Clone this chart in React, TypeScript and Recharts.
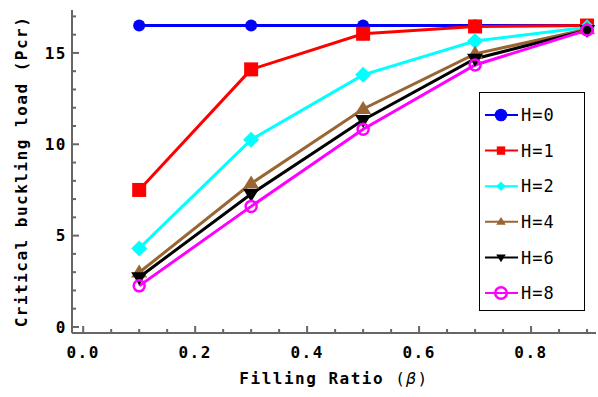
import React from "react";
import { LineChart, Line, XAxis, YAxis, Legend, Label } from "recharts";

const xValues = [0.1, 0.3, 0.5, 0.7, 0.9];
const h0 = [16.5, 16.5, 16.5, 16.5, 16.5];
const h1 = [7.5, 14.1, 16.05, 16.45, 16.5];
const h2 = [4.3, 10.25, 13.8, 15.65, 16.4];
const h4 = [2.98, 7.85, 11.93, 14.95, 16.3];
const h6 = [2.72, 7.28, 11.33, 14.68, 16.25];
const h8 = [2.25, 6.6, 10.82, 14.34, 16.25];

const seriesNames = ["H=0", "H=1", "H=2", "H=4", "H=6", "H=8"];
const seriesKeys = ["h0", "h1", "h2", "h4", "h6", "h8"];
const seriesColors = ["#0000FF", "#FF0000", "#00FFFF", "#996633", "#000000", "#FF00FF"];
const seriesShapes = ["circle", "square", "diamond", "triUp", "triDown", "openCircle"];

const xMajorTicks = [0, 0.2, 0.4, 0.6, 0.8];
const xAllTicks = [0, 0.05, 0.1, 0.15, 0.2, 0.25, 0.3, 0.35, 0.4, 0.45, 0.5, 0.55, 0.6, 0.65, 0.7, 0.75, 0.8, 0.85, 0.9];
const yMajorTicks = [0, 5, 10, 15];
const yAllTicks = [0, 1, 2, 3, 4, 5, 6, 7, 8, 9, 10, 11, 12, 13, 14, 15, 16, 17];

const data = xValues.map((x, i) => ({
  x,
  h0: h0[i],
  h1: h1[i],
  h2: h2[i],
  h4: h4[i],
  h6: h6[i],
  h8: h8[i],
}));

const AXIS = "#666666";
const FONT = "DejaVu Sans Mono";

const isMajor = (v: number, majors: number[]) => majors.some((m) => Math.abs(m - v) < 1e-9);

function Marker({ shape, cx, cy, color, s }: any) {
  if (cx == null || cy == null) return null;
  switch (shape) {
    case "circle":
      return <circle cx={cx} cy={cy} r={6 * s} fill={color} />;
    case "square":
      return <rect x={cx - 7 * s} y={cy - 7 * s} width={14 * s} height={14 * s} fill={color} />;
    case "diamond":
      return (
        <polygon
          points={`${cx},${cy - 8 * s} ${cx + 8 * s},${cy} ${cx},${cy + 8 * s} ${cx - 8 * s},${cy}`}
          fill={color}
        />
      );
    case "triUp":
      return (
        <polygon
          points={`${cx},${cy - 8 * s} ${cx + 8 * s},${cy + 5 * s} ${cx - 8 * s},${cy + 5 * s}`}
          fill={color}
        />
      );
    case "triDown":
      return (
        <polygon
          points={`${cx},${cy + 8 * s} ${cx + 8 * s},${cy - 5 * s} ${cx - 8 * s},${cy - 5 * s}`}
          fill={color}
        />
      );
    case "openCircle":
      return <circle cx={cx} cy={cy} r={5.5 * s} fill="none" stroke={color} strokeWidth={2.5} />;
    default:
      return null;
  }
}

const BottomTick = (props: any) => {
  const { x, y, payload } = props;
  const major = isMajor(payload.value, xMajorTicks);
  return (
    <g>
      <line x1={x} y1={y} x2={x} y2={y - (major ? 7 : 4)} stroke={AXIS} strokeWidth={2} />
      {major && (
        <text
          x={x}
          y={y + 19}
          dy="0.35em"
          textAnchor="middle"
          fontFamily={FONT}
          fontWeight="bold"
          fontSize={16}
          letterSpacing={1.5}
          fill="#000"
        >
          {payload.value.toFixed(1)}
        </text>
      )}
    </g>
  );
};

const TopTick = (props: any) => {
  const { x, y, payload } = props;
  const major = isMajor(payload.value, xMajorTicks);
  return <line x1={x} y1={y} x2={x} y2={y + (major ? 7 : 4)} stroke={AXIS} strokeWidth={2} />;
};

const LeftTick = (props: any) => {
  const { x, y, payload } = props;
  const major = isMajor(payload.value, yMajorTicks);
  return (
    <g>
      <line x1={x} y1={y} x2={x + (major ? 7 : 4)} y2={y} stroke={AXIS} strokeWidth={2} />
      {major && (
        <text
          x={x - 5}
          y={y}
          dy="0.35em"
          textAnchor="end"
          fontFamily={FONT}
          fontWeight="bold"
          fontSize={16}
          letterSpacing={1.5}
          fill="#000"
        >
          {payload.value}
        </text>
      )}
    </g>
  );
};

const RightTick = (props: any) => {
  const { x, y, payload } = props;
  const major = isMajor(payload.value, yMajorTicks);
  return <line x1={x} y1={y} x2={x - (major ? 7 : 4)} y2={y} stroke={AXIS} strokeWidth={2} />;
};

const LegendBox = () => (
  <div
    style={{
      width: 104,
      height: 217,
      border: "1px solid #000",
      background: "#fff",
      boxSizing: "content-box",
    }}
  >
    <svg width={104} height={217}>
      {seriesNames.map((name, i) => {
        const cy = 22 + i * 35.6;
        return (
          <g key={name}>
            <line x1={5} y1={cy} x2={38} y2={cy} stroke={seriesColors[i]} strokeWidth={2} />
            <Marker
              shape={seriesShapes[i]}
              cx={21}
              cy={cy}
              color={seriesColors[i]}
              s={seriesShapes[i] === "circle" || seriesShapes[i] === "openCircle" ? 1.05 : 0.6}
            />
            <text
              x={41}
              y={cy}
              dy="0.36em"
              fontFamily={FONT}
              fontSize={17}
              letterSpacing={1}
              fill="#000"
            >
              {name}
            </text>
          </g>
        );
      })}
    </svg>
  </div>
);

export default function App() {
  return (
    <div style={{ position: "absolute", left: 0, top: 0 }}>
      <LineChart width={598} height={397} data={data} margin={{ top: 10, right: 2, left: 0, bottom: 0 }}>
        <XAxis
          dataKey="x"
          type="number"
          domain={[-0.02, 0.916]}
          allowDataOverflow
          ticks={xAllTicks}
          interval={0}
          tickSize={0}
          tickMargin={0}
          height={64}
          axisLine={{ stroke: AXIS, strokeWidth: 2 }}
          tickLine={false}
          tick={<BottomTick />}
        >
          <Label
            content={() => (
              <text
                x={334}
                y={378}
                dy="0.35em"
                textAnchor="middle"
                fontFamily={FONT}
                fontWeight="bold"
                fontSize={16}
                letterSpacing={1.5}
                fill="#000"
              >
                Filling Ratio <tspan fontWeight="normal">(</tspan>
                <tspan fontStyle="italic" fontWeight="normal">β</tspan>
                <tspan fontWeight="normal">)</tspan>
              </text>
            )}
          />
        </XAxis>
        <XAxis
          xAxisId="top"
          dataKey="x"
          type="number"
          orientation="top"
          domain={[-0.02, 0.916]}
          allowDataOverflow
          ticks={xAllTicks}
          interval={0}
          tickSize={0}
          tickMargin={0}
          height={0}
          axisLine={{ stroke: AXIS, strokeWidth: 2 }}
          tickLine={false}
          tick={<TopTick />}
        />
        <YAxis
          type="number"
          domain={[-0.33, 17.35]}
          allowDataOverflow
          ticks={yAllTicks}
          interval={0}
          tickSize={0}
          tickMargin={0}
          width={72}
          axisLine={{ stroke: AXIS, strokeWidth: 2 }}
          tickLine={false}
          tick={<LeftTick />}
        >
          <Label
            content={() => (
              <text
                x={21}
                y={171.5}
                dy="0.35em"
                textAnchor="middle"
                transform="rotate(-90 21 171.5)"
                fontFamily={FONT}
                fontWeight="bold"
                fontSize={16}
                letterSpacing={1.5}
                fill="#000"
              >
                Critical buckling load (Pcr)
              </text>
            )}
          />
        </YAxis>
        <YAxis
          yAxisId="right"
          type="number"
          orientation="right"
          domain={[-0.33, 17.35]}
          allowDataOverflow
          ticks={yAllTicks}
          interval={0}
          tickSize={0}
          tickMargin={0}
          width={0}
          axisLine={{ stroke: AXIS, strokeWidth: 2 }}
          tickLine={false}
          tick={<RightTick />}
        />
        {seriesKeys.map((k, i) => (
          <Line
            key={k}
            dataKey={k}
            name={seriesNames[i]}
            stroke={seriesColors[i]}
            strokeWidth={3}
            isAnimationActive={false}
            dot={(p: any) => (
              <Marker key={`${k}-${p.index}`} shape={seriesShapes[i]} cx={p.cx} cy={p.cy} color={seriesColors[i]} s={1} />
            )}
            activeDot={false}
          />
        ))}
        <Legend
          layout="vertical"
          align="center"
          verticalAlign="middle"
          content={() => <LegendBox />}
          wrapperStyle={{ position: "absolute", left: 479, top: 92, width: 106, height: 219 }}
        />
      </LineChart>
    </div>
  );
}
